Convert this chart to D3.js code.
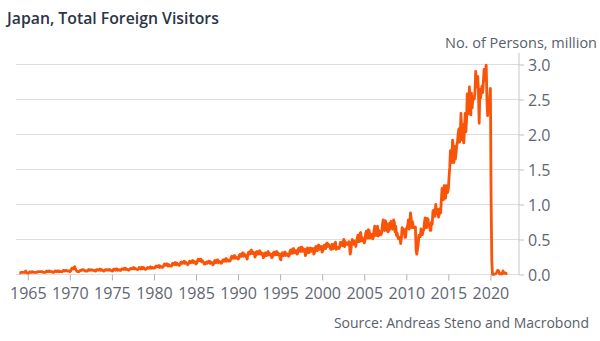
<!DOCTYPE html>
<html><head><meta charset="utf-8">
<script src="https://cdn.jsdelivr.net/npm/d3@7"></script>
<style>
html,body{margin:0;padding:0;background:#fff;}
svg{display:block;}
</style></head>
<body>
<svg id="chart" width="600" height="341"></svg>
<script>
// Japan, total foreign visitors, monthly, million persons
const firstYear = 1964;
const visitors = [
/*1964*/[0.02,0.02,0.03,0.03,0.03,0.03,0.03,0.03,0.03,0.05,0.03,0.02],
/*1965*/[0.02,0.02,0.03,0.04,0.03,0.03,0.04,0.04,0.03,0.03,0.03,0.03],
/*1966*/[0.03,0.03,0.04,0.04,0.04,0.04,0.04,0.04,0.04,0.04,0.03,0.03],
/*1967*/[0.03,0.03,0.04,0.05,0.04,0.04,0.05,0.05,0.04,0.04,0.04,0.04],
/*1968*/[0.03,0.03,0.04,0.05,0.05,0.04,0.05,0.05,0.04,0.05,0.04,0.04],
/*1969*/[0.04,0.04,0.05,0.06,0.05,0.05,0.06,0.06,0.05,0.05,0.05,0.05],
/*1970*/[0.04,0.05,0.07,0.09,0.09,0.08,0.10,0.11,0.08,0.06,0.05,0.04],
/*1971*/[0.04,0.04,0.05,0.06,0.06,0.06,0.07,0.07,0.06,0.06,0.05,0.05],
/*1972*/[0.05,0.05,0.06,0.07,0.06,0.06,0.07,0.07,0.06,0.06,0.06,0.06],
/*1973*/[0.05,0.05,0.07,0.07,0.07,0.06,0.07,0.08,0.06,0.07,0.06,0.06],
/*1974*/[0.05,0.05,0.06,0.07,0.07,0.06,0.07,0.07,0.06,0.07,0.06,0.06],
/*1975*/[0.05,0.05,0.07,0.08,0.07,0.06,0.08,0.08,0.06,0.07,0.07,0.06],
/*1976*/[0.06,0.06,0.08,0.08,0.08,0.07,0.09,0.09,0.07,0.08,0.07,0.07],
/*1977*/[0.06,0.07,0.08,0.09,0.08,0.08,0.09,0.10,0.08,0.09,0.08,0.08],
/*1978*/[0.07,0.07,0.08,0.10,0.09,0.08,0.10,0.10,0.08,0.10,0.09,0.08],
/*1979*/[0.07,0.08,0.09,0.10,0.09,0.09,0.10,0.11,0.09,0.10,0.10,0.09],
/*1980*/[0.09,0.09,0.11,0.12,0.11,0.11,0.12,0.13,0.10,0.12,0.11,0.11],
/*1981*/[0.10,0.11,0.13,0.15,0.13,0.13,0.15,0.15,0.12,0.14,0.13,0.12],
/*1982*/[0.12,0.12,0.15,0.16,0.15,0.14,0.17,0.17,0.14,0.16,0.15,0.14],
/*1983*/[0.13,0.14,0.17,0.18,0.16,0.16,0.18,0.19,0.16,0.18,0.16,0.16],
/*1984*/[0.14,0.15,0.18,0.19,0.17,0.17,0.19,0.20,0.17,0.19,0.18,0.18],
/*1985*/[0.15,0.16,0.19,0.22,0.20,0.20,0.22,0.22,0.18,0.20,0.18,0.17],
/*1986*/[0.15,0.15,0.17,0.18,0.16,0.17,0.19,0.19,0.16,0.18,0.17,0.17],
/*1987*/[0.14,0.15,0.18,0.20,0.17,0.17,0.21,0.21,0.17,0.19,0.18,0.18],
/*1988*/[0.16,0.17,0.20,0.21,0.19,0.19,0.22,0.23,0.19,0.21,0.20,0.19],
/*1989*/[0.19,0.20,0.24,0.26,0.23,0.23,0.26,0.27,0.23,0.25,0.24,0.24],
/*1990*/[0.22,0.23,0.28,0.29,0.26,0.26,0.30,0.31,0.26,0.29,0.27,0.27],
/*1991*/[0.25,0.22,0.29,0.32,0.29,0.29,0.34,0.35,0.30,0.32,0.30,0.31],
/*1992*/[0.25,0.27,0.32,0.33,0.29,0.29,0.33,0.34,0.29,0.31,0.29,0.30],
/*1993*/[0.24,0.25,0.30,0.31,0.27,0.27,0.31,0.33,0.28,0.30,0.28,0.29],
/*1994*/[0.24,0.25,0.30,0.32,0.28,0.28,0.32,0.33,0.28,0.31,0.29,0.29],
/*1995*/[0.23,0.21,0.29,0.31,0.27,0.27,0.31,0.32,0.27,0.30,0.28,0.29],
/*1996*/[0.26,0.27,0.33,0.35,0.31,0.30,0.36,0.37,0.31,0.34,0.32,0.34],
/*1997*/[0.29,0.30,0.36,0.38,0.34,0.33,0.39,0.39,0.33,0.37,0.35,0.36],
/*1998*/[0.27,0.29,0.34,0.38,0.32,0.31,0.37,0.38,0.33,0.37,0.36,0.37],
/*1999*/[0.29,0.31,0.37,0.40,0.35,0.34,0.41,0.42,0.36,0.40,0.38,0.40],
/*2000*/[0.32,0.34,0.40,0.42,0.37,0.37,0.44,0.45,0.40,0.43,0.40,0.41],
/*2001*/[0.36,0.36,0.43,0.43,0.37,0.38,0.44,0.46,0.36,0.37,0.38,0.39],
/*2002*/[0.37,0.39,0.46,0.46,0.42,0.41,0.48,0.50,0.40,0.47,0.44,0.44],
/*2003*/[0.43,0.44,0.47,0.42,0.29,0.35,0.46,0.50,0.43,0.48,0.44,0.44],
/*2004*/[0.40,0.47,0.52,0.56,0.47,0.47,0.59,0.60,0.48,0.53,0.50,0.49],
/*2005*/[0.45,0.48,0.58,0.62,0.52,0.52,0.64,0.63,0.52,0.58,0.53,0.57],
/*2006*/[0.51,0.53,0.63,0.69,0.56,0.56,0.68,0.69,0.55,0.63,0.57,0.59],
/*2007*/[0.57,0.60,0.71,0.78,0.64,0.63,0.77,0.75,0.63,0.72,0.61,0.63],
/*2008*/[0.73,0.65,0.76,0.75,0.67,0.65,0.78,0.74,0.61,0.69,0.56,0.59],
/*2009*/[0.53,0.51,0.53,0.53,0.44,0.52,0.67,0.65,0.59,0.64,0.53,0.53],
/*2010*/[0.65,0.67,0.70,0.78,0.65,0.68,0.88,0.80,0.67,0.75,0.67,0.68],
/*2011*/[0.67,0.68,0.35,0.29,0.36,0.43,0.56,0.55,0.54,0.65,0.60,0.57],
/*2012*/[0.62,0.64,0.75,0.81,0.67,0.67,0.80,0.79,0.70,0.71,0.63,0.63],
/*2013*/[0.75,0.72,0.90,0.92,0.88,0.83,1.00,0.91,0.87,0.93,0.82,0.86],
/*2014*/[0.94,0.88,1.06,1.23,1.10,1.07,1.27,1.10,1.09,1.27,1.17,1.17],
/*2015*/[1.22,1.39,1.53,1.77,1.65,1.60,1.92,1.82,1.60,1.83,1.65,1.73],
/*2016*/[1.85,1.89,2.01,2.08,1.89,1.99,2.30,2.05,1.92,2.14,1.88,2.05],
/*2017*/[2.30,2.04,2.21,2.58,2.29,2.35,2.68,2.47,2.28,2.59,2.38,2.52],
/*2018*/[2.50,2.51,2.61,2.90,2.68,2.70,2.83,2.58,2.16,2.64,2.52,2.63],
/*2019*/[2.69,2.60,2.76,2.93,2.77,2.88,2.99,2.52,2.27,2.50,2.44,2.53],
/*2020*/[2.66,1.09,0.19,0.003,0.002,0.003,0.004,0.009,0.014,0.028,0.057,0.059],
/*2021*/[0.046,0.007,0.012,0.011,0.010,0.010,0.051,0.026,0.018,0.022,0.021,0.012],
/*2022*/[0.017]
];
const xTicks = [1965,1970,1975,1980,1985,1990,1995,2000,2005,2010,2015,2020];
const yTicks = [0,0.5,1.0,1.5,2.0,2.5,3.0];
const titleText = "Japan, Total Foreign Visitors";
const unitText = "No. of Persons, million";
const sourceText = "Source: Andreas Steno and Macrobond";

const points = [];
visitors.forEach((row, i) => row.forEach((v, m) => points.push({t: firstYear + i + m / 12, v})));

const svg = d3.select("#chart");
const font = "'Open Sans', 'Noto Sans', sans-serif";
const tickFont = "'Liberation Sans Narrow', 'Arial Narrow', 'Open Sans', sans-serif";
const x = d3.scaleLinear().domain([1963.6, 2023.4]).range([16, 519]);
const y = d3.scaleLinear().domain([0, 3]).range([274.5, 64.5]);

// gridlines
svg.append("g").selectAll("line").data(yTicks).join("line")
  .attr("x1", 16).attr("x2", 519)
  .attr("y1", d => y(d)).attr("y2", d => y(d))
  .attr("stroke", "#dedede").attr("stroke-width", 1);

// right axis
const yAxis = svg.append("g").attr("transform", "translate(519,0)")
  .call(d3.axisRight(y).tickValues(yTicks).tickFormat(d3.format(".1f")).tickSize(5).tickPadding(4));
yAxis.select(".domain").attr("stroke", "#c8c8c8").attr("d", `M0,53V${y(0)}`);
yAxis.selectAll(".tick line").attr("stroke", "#c0c0c0");
yAxis.selectAll(".tick text").attr("fill", "#5f6672").style("font-family", tickFont).style("font-size", "16px").attr("dy", "0.36em");

// bottom axis
const xAxis = svg.append("g").attr("transform", `translate(0,${y(0)})`)
  .call(d3.axisBottom(x).tickValues(xTicks).tickFormat(d3.format("d")).tickSize(6).tickPadding(7));
xAxis.select(".domain").remove();
xAxis.selectAll(".tick line").attr("stroke", "#b0b0b0");
xAxis.selectAll(".tick text").attr("fill", "#5f6672").style("font-family", tickFont).style("font-size", "16px");

// series line
svg.append("path").datum(points)
  .attr("fill", "none").attr("stroke", "#fa5409").attr("stroke-width", 2.8)
  .attr("stroke-linejoin", "round")
  .attr("d", d3.line().x(d => x(d.t)).y(d => y(d.v)));

svg.append("text").attr("x", 7).attr("y", 24).text(titleText)
  .attr("fill", "#2b3548").style("font-family", font).style("font-size", "15.8px").style("font-weight", 600);
svg.append("text").attr("x", 597).attr("y", 48).attr("text-anchor", "end").text(unitText)
  .attr("fill", "#59606c").style("font-family", font).style("font-size", "14.5px");
svg.append("text").attr("x", 589).attr("y", 328).attr("text-anchor", "end").text(sourceText)
  .attr("fill", "#59606c").style("font-family", font).style("font-size", "14px");
</script>
</body></html>
